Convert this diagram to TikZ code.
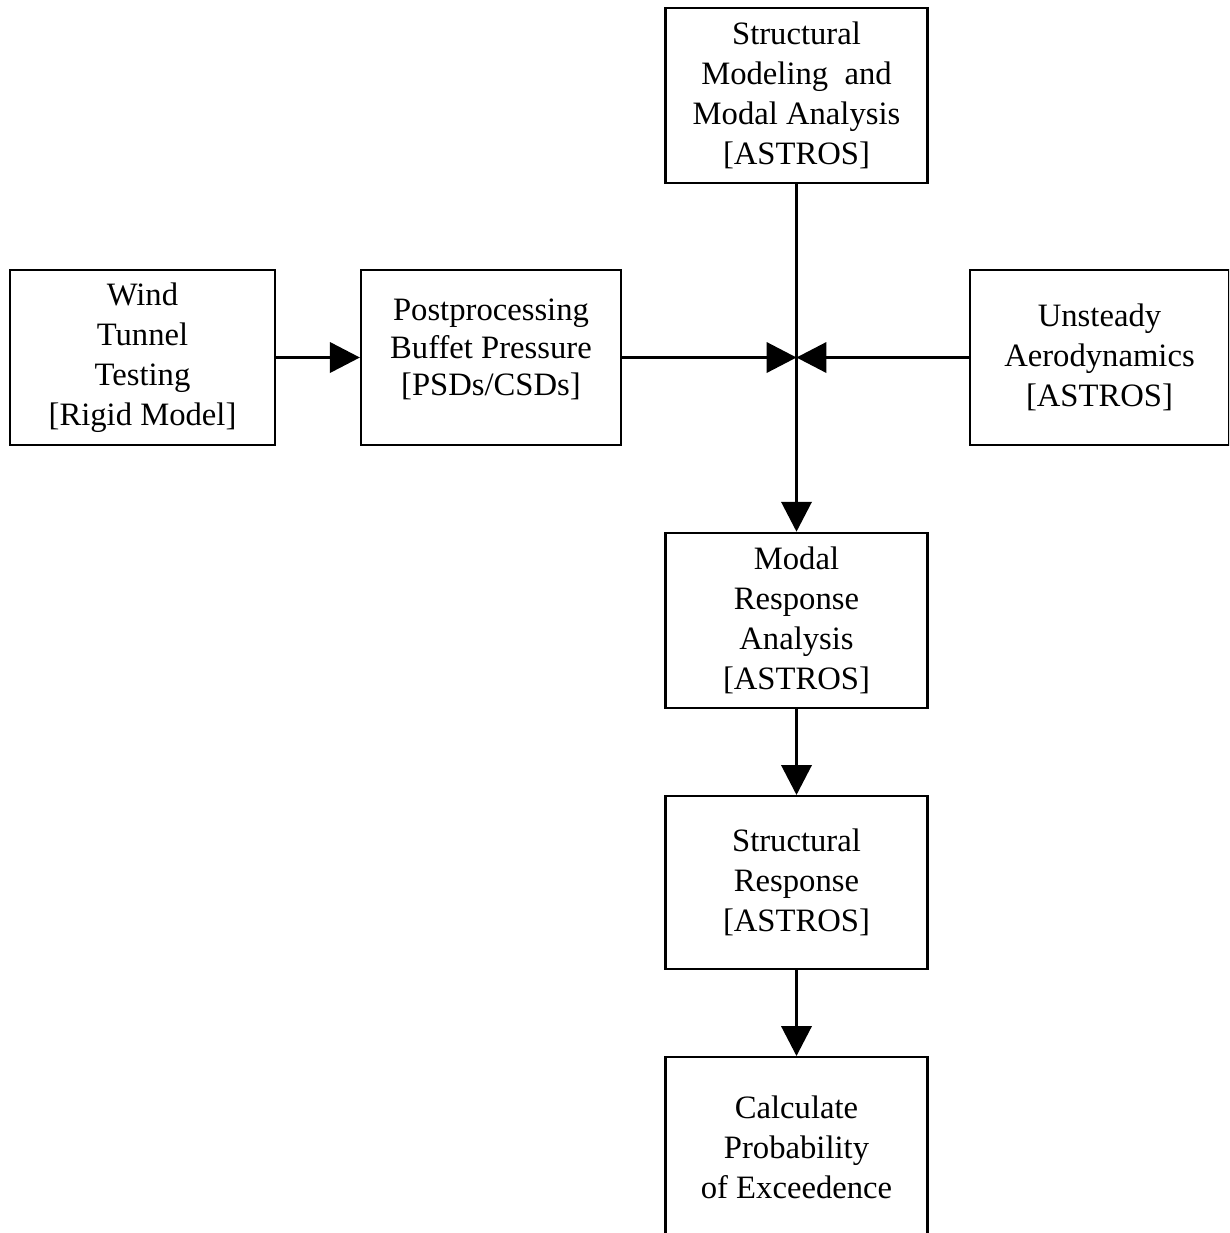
\documentclass[tikz,border=0pt]{standalone}
\usepackage{fontspec}
\setmainfont{Liberation Serif}
\usetikzlibrary{arrows.meta}
\begin{document}
\begin{tikzpicture}[
        x=0.3614pt, y=-0.3614pt,
        box/.style={draw, line width=0.8pt, inner sep=0pt, align=center,
            font=\fontsize{11.8}{14.4}\selectfont,
            minimum width=94.7pt, minimum height=63.4pt},
        arr/.style={line width=0.8pt, -{Triangle[length=10.8pt, width=11pt]}},
    ]
    \useasboundingbox (0,0) rectangle (1229,1233);
    \clip (0,0) rectangle (1229,1233);
    \node[box](struct) at (796.5,95.5){Structural\\Modeling~ and\\Modal Analysis\\{}[ASTROS]};
    \node[box, minimum width=95.8pt](wind) at (142.5,357.5){Wind\\Tunnel\\Testing\\{}[Rigid Model]};
    \node[box, minimum width=94pt, font=\fontsize{11.8}{13.6}\selectfont](post) at (491,357.5){Postprocessing\\Buffet Pressure\\{}[PSDs/CSDs]\\[-6.4pt]};
    \node[box, minimum width=93.6pt](unst) at (1099.5,357.5){Unsteady\\Aerodynamics\\{}[ASTROS]};
    \node[box](modal) at (796.5,620.5){Modal\\Response\\Analysis\\{}[ASTROS]};
    \node[box, minimum height=62.5pt](sresp) at (796.5,882.5){Structural\\Response\\{}[ASTROS]};
    \node[box, minimum height=65pt](calc) at (796.5,1147){Calculate\\Probability\\of Exceedence};
    \coordinate (J) at (struct.south |- post.east);
    \draw[arr] (wind) -- (post);
    \draw[arr] (post) -- (J);
    \draw[arr] (unst) -- (J);
    \draw[arr] (struct) -- (modal);
    \draw[arr] (modal) -- (sresp);
    \draw[arr] (sresp) -- (calc);
\end{tikzpicture}
\end{document}
